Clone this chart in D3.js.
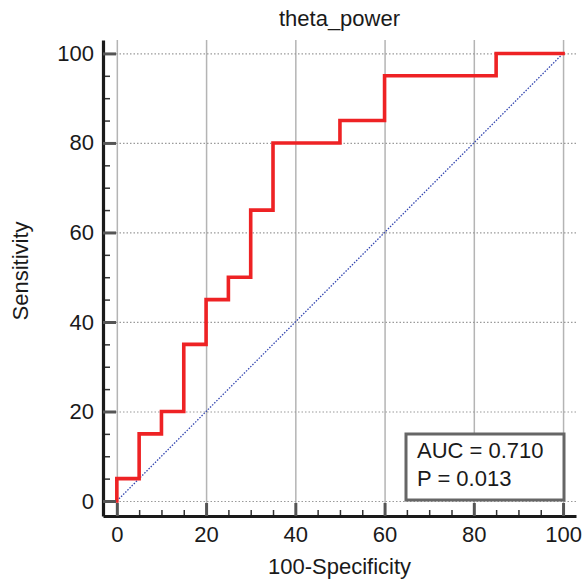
<!DOCTYPE html>
<html>
<head>
<meta charset="utf-8">
<script src="https://cdn.jsdelivr.net/npm/d3@7"></script>
<style>
  body { margin: 0; background: #fff; }
  text { font-family: "Liberation Sans", Arial, Helvetica, sans-serif; fill: #1a1a1a; }
</style>
</head>
<body>
<div id="js-svg-container"></div>
<script>
// ROC curve points (100-Specificity, Sensitivity)
let fpr = [0, 0, 5, 5, 10, 10, 15, 15, 20, 20, 25, 25, 30, 30, 35, 35, 50, 50, 60, 60, 85, 85, 100];
let tpr = [0, 5, 5, 15, 15, 20, 20, 35, 35, 45, 45, 50, 50, 65, 65, 80, 80, 85, 85, 95, 95, 100, 100];
let majorTicks = [0, 20, 40, 60, 80, 100];
let minorTicks = [5, 10, 15, 25, 30, 35, 45, 50, 55, 65, 70, 75, 85, 90, 95];
let statLines = ['AUC = 0.710', 'P = 0.013'];
let title = 'theta_power';
let xTitle = '100-Specificity';
let yTitle = 'Sensitivity';

document.addEventListener('DOMContentLoaded', function() {

    let width = 585;
    let height = 581;

    let plot = {
        left: 103,
        right: 576,
        top: 40,
        bottom: 516
    };

    let x = d3.scaleLinear()
        .domain([-3.1, 102.9])
        .range([plot.left, plot.right]);

    let y = d3.scaleLinear()
        .domain([-3.35, 103])
        .range([plot.bottom, plot.top]);

    let svg = d3.select('#js-svg-container')
        .append('svg')
        .attr('width', width)
        .attr('height', height);

    // vertical grid, solid
    svg.append('g')
        .attr('transform', 'translate(0,' + plot.bottom + ')')
        .call(d3.axisBottom(x).tickValues(majorTicks).tickSize(-(plot.bottom - plot.top)).tickFormat(''))
        .call(g => g.select('.domain').remove())
        .selectAll('line')
        .attr('stroke', '#b4b4b4')
        .attr('stroke-width', 1.5);

    // horizontal grid, dotted
    svg.append('g')
        .attr('transform', 'translate(' + plot.right + ',0)')
        .call(d3.axisLeft(y).tickValues(majorTicks).tickSize(plot.right - x(0) + 1).tickFormat(''))
        .call(g => g.select('.domain').remove())
        .selectAll('line')
        .attr('stroke', '#9a9a9a')
        .attr('stroke-width', 1.2)
        .attr('stroke-dasharray', '1.5,2');

    // chance diagonal
    svg.append('line')
        .attr('x1', x(0))
        .attr('y1', y(0))
        .attr('x2', x(100))
        .attr('y2', y(100))
        .attr('stroke', '#3346b0')
        .attr('stroke-width', 1.3)
        .attr('stroke-dasharray', '1.5,1.5');

    // ROC line
    let line = d3.line()
        .x((d, i) => x(fpr[i]))
        .y((d, i) => y(tpr[i]));

    svg.append('path')
        .datum(fpr)
        .attr('d', line)
        .attr('fill', 'none')
        .attr('stroke', '#ee2224')
        .attr('stroke-width', 3.6)
        .attr('stroke-linejoin', 'miter')
        .attr('stroke-linecap', 'square');

    // x axis
    let axisX = svg.append('g')
        .attr('transform', 'translate(0,' + plot.bottom + ')');

    axisX.append('g')
        .call(d3.axisBottom(x).tickValues(minorTicks).tickSize(-6).tickFormat('').tickSizeOuter(0))
        .call(g => g.select('.domain').remove())
        .selectAll('line')
        .attr('stroke', '#333')
        .attr('stroke-width', 1.5);

    axisX.append('g')
        .call(d3.axisBottom(x).tickValues(majorTicks).tickSize(-13).tickSizeOuter(0).tickPadding(10))
        .call(g => g.select('.domain').attr('stroke', '#1a1a1a').attr('stroke-width', 3.2))
        .call(g => g.selectAll('line').attr('stroke', '#555').attr('stroke-width', 3))
        .call(g => g.selectAll('text').attr('font-size', 22).attr('fill', '#1a1a1a')
            .attr('font-family', '"Liberation Sans", Arial, sans-serif'));

    // y axis
    let axisY = svg.append('g')
        .attr('transform', 'translate(' + plot.left + ',0)');

    axisY.append('g')
        .call(d3.axisLeft(y).tickValues(minorTicks).tickSize(-7).tickFormat('').tickSizeOuter(0))
        .call(g => g.select('.domain').remove())
        .selectAll('line')
        .attr('stroke', '#333')
        .attr('stroke-width', 1.5);

    axisY.append('g')
        .call(d3.axisLeft(y).tickValues(majorTicks).tickSize(-13).tickSizeOuter(0).tickPadding(9))
        .call(g => g.select('.domain').attr('stroke', '#1a1a1a').attr('stroke-width', 3.2))
        .call(g => g.selectAll('line').attr('stroke', '#555').attr('stroke-width', 3))
        .call(g => g.selectAll('text').attr('font-size', 22).attr('fill', '#1a1a1a')
            .attr('font-family', '"Liberation Sans", Arial, sans-serif'));

    // stats box
    let box = svg.append('g');
    box.append('rect')
        .attr('x', 406)
        .attr('y', 434)
        .attr('width', 158)
        .attr('height', 66)
        .attr('fill', '#fff')
        .attr('stroke', '#666')
        .attr('stroke-width', 3);

    box.selectAll('text')
        .data(statLines)
        .enter()
        .append('text')
        .attr('x', 417)
        .attr('y', (d, i) => 458 + i * 27.5)
        .attr('font-size', 22)
        .text(d => d);

    // titles
    svg.append('text')
        .attr('x', (plot.left + plot.right) / 2)
        .attr('y', 26)
        .attr('text-anchor', 'middle')
        .attr('font-size', 22)
        .text(title);

    svg.append('text')
        .attr('x', (plot.left + plot.right) / 2)
        .attr('y', 574)
        .attr('text-anchor', 'middle')
        .attr('font-size', 22)
        .text(xTitle);

    svg.append('text')
        .attr('transform', 'translate(28,' + 271 + ') rotate(-90)')
        .attr('text-anchor', 'middle')
        .attr('font-size', 22)
        .text(yTitle);
});
</script>
</body>
</html>
